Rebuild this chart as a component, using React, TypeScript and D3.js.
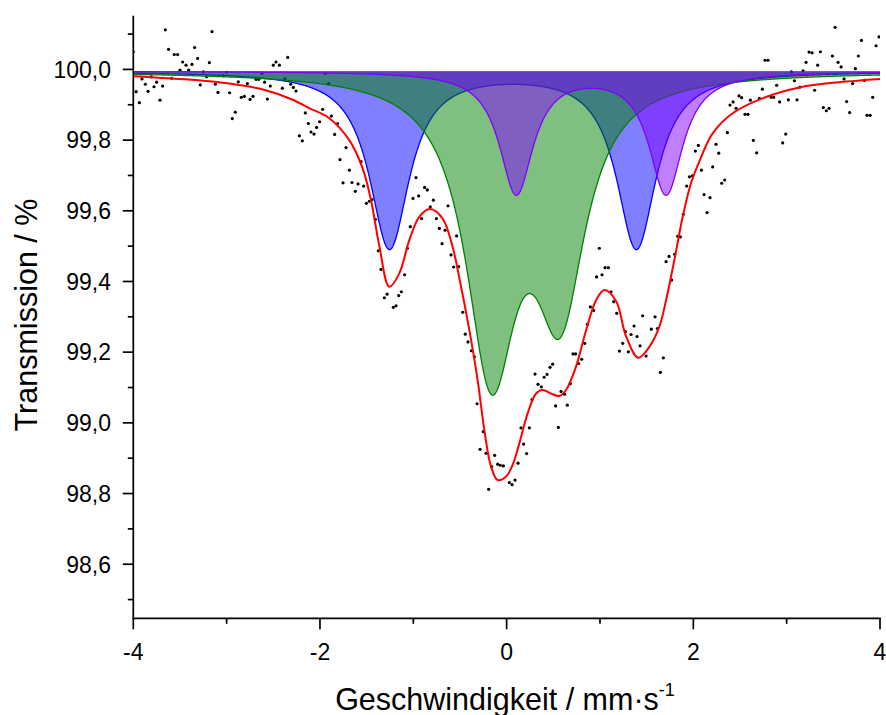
import React from 'react';
import * as d3 from 'd3';

// Measured spectrum (velocity in mm/s, transmission in %)
const velocity = [
  -4.0, -3.97, -3.935, -3.907, -3.871, -3.842, -3.807, -3.778, -3.75, -3.714, -3.686, -3.657, -3.622, -3.589, -3.561, -3.525, -3.5, -3.471, -3.435, -3.407, -3.371, -3.343, -3.311, -3.282, -3.25, -3.214, -3.185, -3.157, -3.121, -3.093, -3.036, -3.0, -2.968, -2.939, -2.907, -2.875, -2.843, -2.81, -2.778, -2.749, -2.717, -2.685, -2.657, -2.621, -2.593, -2.564, -2.532, -2.5, -2.471, -2.435, -2.403, -2.375, -2.346, -2.314, -2.285, -2.257, -2.221, -2.189, -2.157, -2.125, -2.096, -2.064, -2.036, -2.004, -1.971,
  -1.943, -1.907, -1.878, -1.843, -1.811, -1.785, -1.753, -1.721, -1.685, -1.657, -1.621, -1.592, -1.56, -1.532, -1.503, -1.471, -1.442, -1.407, -1.375, -1.346, -1.31, -1.281, -1.214, -1.185, -1.157, -1.128, -1.093, -1.064, -1.032, -1.003, -0.971, -0.943, -0.911, -0.879, -0.85, -0.818, -0.785, -0.753, -0.721, -0.692, -0.66, -0.628, -0.596, -0.568, -0.536, -0.514,
  -0.471, -0.443, -0.414, -0.378, -0.346, -0.317, -0.285, -0.25, -0.221, -0.193, -0.161, -0.129, -0.096, -0.068, -0.035, 0.029, 0.058, 0.09, 0.122, 0.154, 0.182, 0.214, 0.243, 0.272, 0.304, 0.336, 0.372, 0.401, 0.433, 0.465, 0.493, 0.525, 0.554, 0.583, 0.621, 0.65, 0.683, 0.711, 0.739, 0.771, 0.804, 0.836, 0.865, 0.897, 0.932,
  0.964, 0.993, 1.022, 1.054, 1.09, 1.118, 1.147, 1.179, 1.208, 1.243, 1.272, 1.304, 1.333, 1.365, 1.397, 1.429, 1.457, 1.494, 1.55, 1.59, 1.615, 1.647, 1.679, 1.708, 1.74, 1.768, 1.8, 1.832, 1.861, 1.893, 1.929, 1.958, 1.99, 2.022, 2.054, 2.086, 2.115, 2.147, 2.179, 2.207, 2.243, 2.272,
  2.304, 2.336, 2.365, 2.393, 2.426, 2.458, 2.49, 2.518, 2.554, 2.586, 2.611, 2.643, 2.679, 2.708, 2.74, 2.768, 2.8, 2.833, 2.861, 2.893, 2.925, 2.957, 2.99, 3.018, 3.05, 3.083, 3.111, 3.143, 3.176, 3.208, 3.24, 3.272, 3.3, 3.332, 3.361, 3.393, 3.425, 3.454, 3.49, 3.519, 3.551, 3.583, 3.615, 3.643, 3.675, 3.707, 3.736, 3.768, 3.801, 3.833, 3.861, 3.894, 3.922, 3.958, 3.99,
];
const transmission = [
  100.05, 99.937, 99.906, 99.973, 99.958, 99.938, 99.979, 99.951, 99.964, 99.913, 99.953, 100.112, 100.057, 99.975, 100.042, 100.042, 99.998, 100.021, 100.012, 99.998, 100.014, 100.062, 100.031, 99.956, 99.993, 99.979, 100.019, 100.107, 99.958, 99.935, 99.982, 99.992, 99.934, 99.861, 99.879, 99.965, 99.921, 99.924, 99.96, 99.915, 99.924, 99.972, 99.972, 99.989, 99.964, 99.916, 99.953, 100.012, 100.021, 100.012, 99.947, 99.973, 100.034, 99.958, 99.949, 99.939, 99.812, 99.798, 99.877, 99.847, 99.823, 99.817, 99.836, 99.852, 99.887,
  99.989, 99.96, 99.868, 99.816, 99.847, 99.745, 99.679, 99.779, 99.715, 99.68, 99.655, 99.676, 99.739, 99.67, 99.621, 99.627, 99.632, 99.576, 99.487, 99.434, 99.354, 99.364, 99.327, 99.331, 99.36, 99.371, 99.419, 99.494, 99.555, 99.635, 99.694, 99.642, 99.578, 99.666, 99.659, 99.611, 99.63, 99.578, 99.55, 99.507, 99.545, 99.614, 99.475, 99.441, 99.529, 99.442,
  99.313, 99.251, 99.229, 99.204, 99.187, 99.054, 98.925, 98.975, 98.914, 98.812, 98.876, 98.908, 98.883, 98.88, 98.878, 98.831, 98.825, 98.838, 98.886, 98.986, 98.94, 98.913, 98.986, 99.066, 99.138, 99.109, 99.102, 99.129, 99.137, 99.157, 99.166, 99.048, 98.987, 99.089, 99.081, 99.05, 99.111, 99.195, 99.195, 99.168, 99.18, 99.225, 99.279, 99.328, 99.318,
  99.413, 99.494, 99.419, 99.439, 99.439, 99.371, 99.343, 99.31, 99.203, 99.225, 99.258, 99.201, 99.25, 99.274, 99.244, 99.218, 99.303, 99.189, 99.265, 99.3, 99.267, 99.143, 99.184, 99.456, 99.471, 99.404, 99.477, 99.528, 99.526, 99.59, 99.67, 99.696, 99.699, 99.769, 99.785, 99.715, 99.646, 99.595, 99.637, 99.724, 99.788, 99.763,
  99.678, 99.687, 99.821, 99.899, 99.908, 99.89, 99.925, 99.92, 99.873, 99.873, 99.913, 99.799, 99.764, 99.918, 99.944, 100.026, 100.026, 99.921, 99.921, 99.955, 99.908, 99.792, 99.817, 99.914, 99.993, 99.968, 99.914, 99.95, 99.996, 100.02, 100.049, 100.047, 99.941, 100.012, 100.05, 99.892, 99.883, 99.89, 100.038, 100.119, 100.02, 100.007, 99.973, 99.909, 99.878, 99.96, 100.002, 100.038, 100.082, 99.969, 99.87, 99.87, 99.921, 100.067, 100.092,
];

// Total fit curve
const fitVelocity = [
  -4.0, -3.33, -2.97, -2.61, -2.3, -2.11, -1.9, -1.686, -1.543, -1.453, -1.364, -1.257, -1.15, -1.043, -0.936, -0.821, -0.686, -0.579, -0.507, -0.4, -0.311, -0.239, -0.167, -0.096, -0.006, 0.064, 0.136, 0.225, 0.315, 0.386, 0.475, 0.565, 0.636, 0.743, 0.851, 0.958, 1.047, 1.172, 1.279, 1.41, 1.529, 1.636, 1.708, 1.797, 1.886, 1.975, 2.065, 2.207, 2.421, 2.779, 3.136, 3.493, 4.0,
];
const fitTransmission = [
  99.981, 99.97, 99.96, 99.943, 99.915, 99.89, 99.862, 99.8, 99.72, 99.63, 99.5, 99.385, 99.423, 99.517, 99.583, 99.605, 99.578, 99.498, 99.41, 99.263, 99.121, 98.98, 98.876, 98.838, 98.848, 98.881, 98.942, 99.027, 99.083, 99.093, 99.083, 99.076, 99.093, 99.159, 99.262, 99.347, 99.376, 99.345, 99.245, 99.184, 99.215, 99.272, 99.347, 99.461, 99.583, 99.678, 99.74, 99.819, 99.876, 99.922, 99.949, 99.962, 99.973,
];

// Subspectra (Lorentzian doublets): centres, depths (%), half widths (mm/s)
const componentBaseline = 99.995;
const blueCenters = [-1.255, 1.39];
const blueDepths = [0.5, 0.5];
const blueWidth = 0.26;
const greenCenters = [-0.165, 0.575];
const greenDepths = [0.812, 0.62];
const greenWidth = 0.33;
const purpleCenters = [0.104, 1.708];
const purpleDepths = [0.345, 0.345];
const purpleWidth = 0.22;

const yMajorTicks = [98.6, 98.8, 99.0, 99.2, 99.4, 99.6, 99.8, 100.0];
const yMinorTicks = [98.5, 98.7, 98.9, 99.1, 99.3, 99.5, 99.7, 99.9, 100.1];
const xMajorTicks = [-4, -2, 0, 2, 4];
const xMinorTicks = [-3, -1, 1, 3];

const FONT = "'Liberation Sans', Arial, Helvetica, sans-serif";

export default function App() {
  const W = 886, H = 715;
  const left = 133.3, right = 880, top = 15.7, bottom = 618.3;
  const x = d3.scaleLinear().domain([-4, 4]).range([left, right]);
  const y = d3.scaleLinear().domain([98.447, 100.152]).range([bottom, top]);

  const grid = d3.range(0, 1601).map((i) => -4 + i * 0.005);
  const doublet = (centers: number[], depths: number[], w: number) => (v: number) =>
    centers.reduce((s, c, i) => s + depths[i] / (1 + ((v - c) / w) ** 2), 0);

  const comps = [
    { f: doublet(blueCenters, blueDepths, blueWidth), color: '#0000FF' },
    { f: doublet(greenCenters, greenDepths, greenWidth), color: '#008000' },
    { f: doublet(purpleCenters, purpleDepths, purpleWidth), color: '#8000FF' },
  ];

  const fitLine = d3
    .line<number>()
    .x((_, i) => x(fitVelocity[i]))
    .y((d) => y(d))
    .curve(d3.curveCatmullRom.alpha(0.5));

  const fmtY = (v: number) => v.toFixed(1).replace('.', ',');

  return (
    <svg width={W} height={H} style={{ position: 'absolute', left: 0, top: 0, background: '#fff' }} fontFamily={FONT}>
      <defs>
        <clipPath id="plot">
          <rect x={left} y={top} width={right - left} height={bottom - top} />
        </clipPath>
      </defs>
      <rect x={0} y={0} width={W} height={H} fill="#fff" />
      <g clipPath="url(#plot)">
        {velocity.map((v, i) => (
          <circle key={i} cx={x(v)} cy={y(transmission[i])} r={1.6} fill="#000" />
        ))}
        {comps.map((c, k) => {
          const area = d3
            .area<number>()
            .x((v) => x(v))
            .y0(y(componentBaseline))
            .y1((v) => y(componentBaseline - c.f(v)));
          const line = d3
            .line<number>()
            .x((v) => x(v))
            .y((v) => y(componentBaseline - c.f(v)));
          return (
            <g key={k}>
              <path d={area(grid) || ''} fill={c.color} fillOpacity={0.5} />
              <path d={line(grid) || ''} fill="none" stroke={c.color} strokeWidth={1.3} />
            </g>
          );
        })}
        <path d={fitLine(fitTransmission) || ''} fill="none" stroke="#FF0000" strokeWidth={2} />
      </g>

      {/* axes */}
      <line x1={left} x2={left} y1={top} y2={bottom + 0.8} stroke="#000" strokeWidth={1.7} />
      <line x1={left - 0.8} x2={right + 0.8} y1={bottom} y2={bottom} stroke="#000" strokeWidth={1.7} />
      {yMajorTicks.map((t) => (
        <g key={'ym' + t}>
          <line x1={left - 10.5} x2={left} y1={y(t)} y2={y(t)} stroke="#000" strokeWidth={1.7} />
          <text x={111} y={y(t)} dy="0.36em" textAnchor="end" fontSize={23} fill="#000">
            {fmtY(t)}
          </text>
        </g>
      ))}
      {yMinorTicks.map((t) => (
        <line key={'yn' + t} x1={left - 5.5} x2={left} y1={y(t)} y2={y(t)} stroke="#000" strokeWidth={1.7} />
      ))}
      {xMajorTicks.map((t) => (
        <g key={'xm' + t}>
          <line x1={x(t)} x2={x(t)} y1={bottom} y2={bottom + 11} stroke="#000" strokeWidth={1.7} />
          <text x={x(t)} y={660} textAnchor="middle" fontSize={23} fill="#000">
            {String(t)}
          </text>
        </g>
      ))}
      {xMinorTicks.map((t) => (
        <line key={'xn' + t} x1={x(t)} x2={x(t)} y1={bottom} y2={bottom + 5.5} stroke="#000" strokeWidth={1.7} />
      ))}

      <text transform="translate(37,315) rotate(-90)" textAnchor="middle" fontSize={30.5} fill="#000">
        Transmission / %
      </text>
      <text x={505} y={710} textAnchor="middle" fontSize={30.5} fill="#000">
        Geschwindigkeit / mm·s
        <tspan fontSize={18} dy={-14}>-1</tspan>
      </text>
    </svg>
  );
}
